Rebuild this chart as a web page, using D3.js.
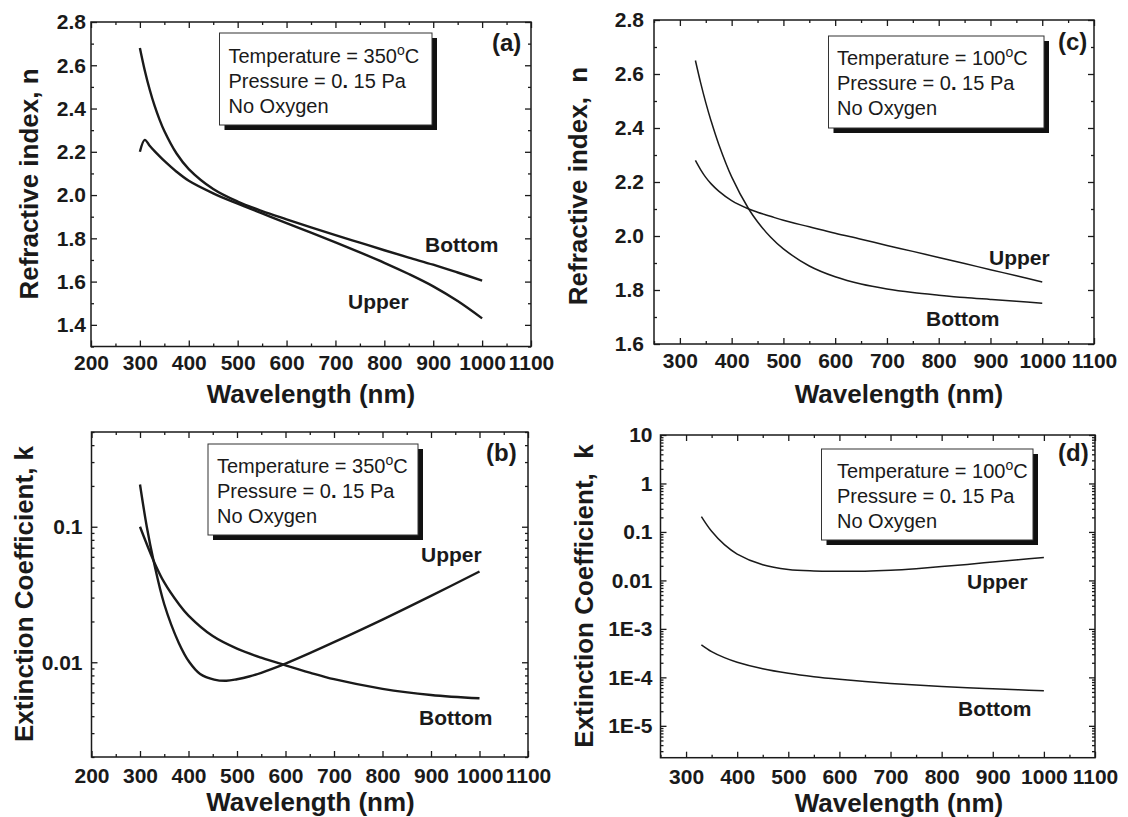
<!DOCTYPE html>
<html><head><meta charset="utf-8">
<script src="https://cdn.jsdelivr.net/npm/d3@7"></script>
<style>
body{margin:0;background:#fff;}
svg{display:block;}
text{font-family:"Liberation Sans",Arial,Helvetica,sans-serif;fill:#1a1a1a;}
</style></head><body>
<svg id="chart" width="1128" height="817"></svg>
<script>
// ---------- DATA ----------
// Panel (a): refractive index, 350 C
const waveA = [300,310,320,330,340,350,375,400,450,500,550,600,650,700,750,800,850,900,950,1000];
const nBottomA = [2.68,2.576,2.488,2.413,2.35,2.296,2.192,2.12,2.028,1.97,1.926,1.888,1.851,1.815,1.78,1.745,1.711,1.678,1.642,1.605];
const nUpperA  = [2.20,2.255,2.228,2.203,2.18,2.158,2.108,2.066,2.008,1.96,1.915,1.87,1.826,1.781,1.735,1.687,1.635,1.578,1.51,1.43];

// Panel (b): extinction coefficient, 350 C
const waveUpperB = [300,314,328,350,380,402,424,453,478,500,525,550,575,600,650,700,800,900,1000];
const kUpperB    = [0.205,0.1,0.056,0.0268,0.0139,0.0100,0.0082,0.00745,0.0073,0.0075,0.00785,0.00836,0.0090,0.00977,0.01167,0.01406,0.02065,0.0309,0.0467];
const waveBottomB = [300,330,350,380,400,450,500,550,600,650,700,800,900,1000];
const kBottomB    = [0.100,0.0541,0.0388,0.0269,0.0221,0.0156,0.0126,0.0108,0.0095,0.0084,0.0075,0.00637,0.00574,0.00542];

// Panel (c): refractive index, 100 C
const waveC = [330,340,350,360,375,400,433,450,475,500,550,600,650,700,750,800,850,900,950,1000];
const nUpperC  = [2.28,2.246,2.217,2.194,2.166,2.131,2.10,2.088,2.073,2.058,2.034,2.010,1.988,1.965,1.943,1.92,1.898,1.875,1.853,1.83];
const nBottomC = [2.65,2.568,2.494,2.428,2.34,2.219,2.10,2.053,1.996,1.952,1.889,1.849,1.822,1.804,1.791,1.781,1.772,1.765,1.758,1.751];

// Panel (d): extinction coefficient, 100 C
const waveD = [330,350,375,400,450,500,550,600,650,700,750,800,850,900,950,1000];
const kUpperD  = [0.207,0.103,0.0546,0.035,0.021,0.0168,0.0157,0.0155,0.0155,0.0162,0.0175,0.0193,0.0214,0.0240,0.0268,0.0297];
const kBottomD = [4.7e-4,3.4e-4,2.55e-4,2.05e-4,1.50e-4,1.21e-4,1.03e-4,9.1e-5,8.2e-5,7.5e-5,6.93e-5,6.47e-5,6.1e-5,5.8e-5,5.53e-5,5.31e-5];

// Tick values / labels
const xTicksAB = [200,300,400,500,600,700,800,900,1000,1100];
const xTicksCD = [300,400,500,600,700,800,900,1000,1100];
const yTicksA = [1.4,1.6,1.8,2.0,2.2,2.4,2.6,2.8];
const yTicksC = [1.6,1.8,2.0,2.2,2.4,2.6,2.8];
const yTicksB = [0.01,0.1];
const yTickLabelsB = ["0.01","0.1"];
const yTicksD = [1e-5,1e-4,1e-3,0.01,0.1,1,10];
const yTickLabelsD = ["1E-5","1E-4","1E-3","0.01","0.1","1","10"];

const legendLines350 = ["Temperature = 350", "Pressure = 0", "No Oxygen"];
const legendLines100 = ["Temperature = 100", "Pressure = 0", "No Oxygen"];

// ---------- DRAWING ----------
const svg = d3.select("#chart");
const INK = "#1a1a1a";

function logMinor(domain){
  const out = [];
  const lo = Math.floor(Math.log10(domain[0])), hi = Math.ceil(Math.log10(domain[1]));
  for (let e = lo; e <= hi; e++) for (let m = 2; m <= 9; m++) {
    const v = m * Math.pow(10, e);
    if (v >= domain[0]*0.999 && v <= domain[1]*1.001) out.push(v);
  }
  return out;
}

function drawPanel(p){
  const g = svg.append("g");
  const x = d3.scaleLinear().domain(p.xDomain).range([p.left, p.right]);
  const y = (p.log ? d3.scaleLog() : d3.scaleLinear()).domain(p.yDomain).range([p.bottom, p.top]);

  const xMinor = d3.range(p.xDomain[0], p.xDomain[1] + 1, 50).filter(v => !p.xTicks.includes(v));
  const yMinor = p.log ? logMinor(p.yDomain)
    : d3.range(Math.round(p.yDomain[0]*10), Math.round(p.yDomain[1]*10) + 1).map(v => v/10).filter(v => !p.yTicks.some(t => Math.abs(t - v) < 1e-6));

  const style = sel => {
    sel.select(".domain").remove();
    sel.selectAll("line").attr("stroke", INK).attr("stroke-width", 1.3);
    sel.selectAll("text").attr("font-size", 21).attr("font-weight", "bold")
      .attr("font-family", '"Liberation Sans", Arial, sans-serif').attr("fill", INK);
  };

  g.append("g").attr("transform", `translate(0,${p.bottom})`)
    .call(d3.axisBottom(x).tickValues(p.xTicks).tickSize(-6).tickPadding(p.xPad).tickFormat(d3.format("d"))).call(style);
  g.append("g").attr("transform", `translate(0,${p.bottom})`)
    .call(d3.axisBottom(x).tickValues(xMinor).tickSize(-3).tickFormat("")).call(style);
  g.append("g").attr("transform", `translate(0,${p.top})`)
    .call(d3.axisTop(x).tickValues(p.xTicks).tickSize(-6).tickFormat("")).call(style);
  g.append("g").attr("transform", `translate(0,${p.top})`)
    .call(d3.axisTop(x).tickValues(xMinor).tickSize(-3).tickFormat("")).call(style);
  const yFmt = p.yLabels ? (d => p.yLabels[p.yTicks.indexOf(d)]) : d3.format(".1f");
  g.append("g").attr("transform", `translate(${p.left},0)`)
    .call(d3.axisLeft(y).tickValues(p.yTicks).tickSize(-6).tickPadding(p.yPad).tickFormat(yFmt)).call(style);
  g.append("g").attr("transform", `translate(${p.left},0)`)
    .call(d3.axisLeft(y).tickValues(yMinor).tickSize(-3).tickFormat("")).call(style);
  g.append("g").attr("transform", `translate(${p.right},0)`)
    .call(d3.axisRight(y).tickValues(p.yTicks).tickSize(-6).tickFormat("")).call(style);
  g.append("g").attr("transform", `translate(${p.right},0)`)
    .call(d3.axisRight(y).tickValues(yMinor).tickSize(-3).tickFormat("")).call(style);

  g.append("rect").attr("x", p.left).attr("y", p.top)
    .attr("width", p.right - p.left).attr("height", p.bottom - p.top)
    .attr("fill", "none").attr("stroke", INK).attr("stroke-width", 1.5);

  const line = d3.line().x(d => x(d[0])).y(d => y(d[1])).curve(d3.curveCatmullRom.alpha(0.5));
  p.series.forEach(s => {
    g.append("path").datum(s.wave.map((w, i) => [w, s.values[i]]))
      .attr("d", line).attr("fill", "none").attr("stroke", INK)
      .attr("stroke-width", p.lineWidth).attr("stroke-linejoin", "round");
    g.append("text").attr("x", s.lx).attr("y", s.ly).attr("font-size", 21)
      .attr("font-weight", "bold").text(s.name);
  });

  g.append("text").attr("x", p.tag[1]).attr("y", p.tag[2]).attr("font-size", 24)
    .attr("font-weight", "bold").text(p.tag[0]);

  const L = p.legend;
  g.append("rect").attr("x", L.x + 5).attr("y", L.y + 5).attr("width", L.w).attr("height", L.h).attr("fill", "#111");
  g.append("rect").attr("x", L.x).attr("y", L.y).attr("width", L.w).attr("height", L.h)
    .attr("fill", "#fff").attr("stroke", "#333").attr("stroke-width", 1);
  const t1 = g.append("text").attr("x", L.tx).attr("y", L.ty).attr("font-size", 20);
  t1.append("tspan").text(L.lines[0]);
  t1.append("tspan").attr("font-size", 14).attr("dy", -8).text("o");
  t1.append("tspan").attr("dy", 8).text("C");
  const t2 = g.append("text").attr("x", L.tx).attr("y", L.ty + 25).attr("font-size", 20).style("white-space", "pre");
  t2.append("tspan").text(L.lines[1]);
  t2.append("tspan").attr("font-weight", "bold").text(".");
  t2.append("tspan").text(" 15 Pa");
  g.append("text").attr("x", L.tx).attr("y", L.ty + 50).attr("font-size", 20).text(L.lines[2]);

  g.append("text").attr("x", p.xTitle[0]).attr("y", p.xTitle[1]).attr("text-anchor", "middle")
    .attr("font-size", 26).attr("font-weight", "bold").text("Wavelength (nm)");
  g.append("text").attr("transform", `translate(${p.yTitle[0]},${p.yTitle[1]}) rotate(-90)`)
    .attr("text-anchor", "middle").attr("font-size", 26).attr("font-weight", "bold")
    .style("white-space", "pre").text(p.yTitle[2]);
}

drawPanel({
  xDomain: [200, 1100], yDomain: [1.3, 2.8], log: false,
  left: 91, right: 531, top: 22, bottom: 346.5,
  xTicks: xTicksAB, yTicks: yTicksA, xPad: 9, yPad: 5, lineWidth: 2.4,
  series: [{name: "Bottom", wave: waveA, values: nBottomA, lx: 425, ly: 252},
           {name: "Upper", wave: waveA, values: nUpperA, lx: 348, ly: 309}],
  tag: ["(a)", 492, 51],
  legend: {x: 219.5, y: 33, w: 212.5, h: 92, tx: 228.5, ty: 63, lines: legendLines350},
  xTitle: [311, 403], yTitle: [38, 184, "Refractive index, n"]
});

drawPanel({
  xDomain: [200, 1100], yDomain: [0.002, 0.5], log: true,
  left: 91.5, right: 528, top: 432, bottom: 757,
  xTicks: xTicksAB, yTicks: yTicksB, yLabels: yTickLabelsB, xPad: 11, yPad: 9, lineWidth: 2.4,
  series: [{name: "Upper", wave: waveUpperB, values: kUpperB, lx: 421, ly: 562},
           {name: "Bottom", wave: waveBottomB, values: kBottomB, lx: 419, ly: 725}],
  tag: ["(b)", 486, 461],
  legend: {x: 208, y: 444, w: 210, h: 91, tx: 217, ty: 473, lines: legendLines350},
  xTitle: [310.5, 811], yTitle: [33, 594, "Extinction Coefficient, k"]
});

drawPanel({
  xDomain: [250, 1100], yDomain: [1.6, 2.8], log: false,
  left: 654, right: 1094, top: 20, bottom: 344,
  xTicks: xTicksCD, yTicks: yTicksC, xPad: 9, yPad: 10, lineWidth: 1.5,
  series: [{name: "Upper", wave: waveC, values: nUpperC, lx: 989, ly: 265},
           {name: "Bottom", wave: waveC, values: nBottomC, lx: 926, ly: 326}],
  tag: ["(c)", 1058, 50],
  legend: {x: 828.5, y: 36, w: 215.5, h: 92, tx: 837, ty: 65, lines: legendLines100},
  xTitle: [899, 403], yTitle: [587, 186, "Refractive index,  n"]
});

drawPanel({
  xDomain: [250, 1100], yDomain: [2.2e-6, 10], log: true,
  left: 660.5, right: 1095, top: 435, bottom: 757.7,
  xTicks: xTicksCD, yTicks: yTicksD, yLabels: yTickLabelsD, xPad: 11, yPad: 8, lineWidth: 1.5,
  series: [{name: "Upper", wave: waveD, values: kUpperD, lx: 967, ly: 589},
           {name: "Bottom", wave: waveD, values: kBottomD, lx: 958, ly: 716}],
  tag: ["(d)", 1058, 461],
  legend: {x: 821.5, y: 449, w: 211.5, h: 91, tx: 837, ty: 478, lines: legendLines100},
  xTitle: [899, 812], yTitle: [593, 596, "Extinction Coefficient,  k"]
});
</script>
</body></html>
